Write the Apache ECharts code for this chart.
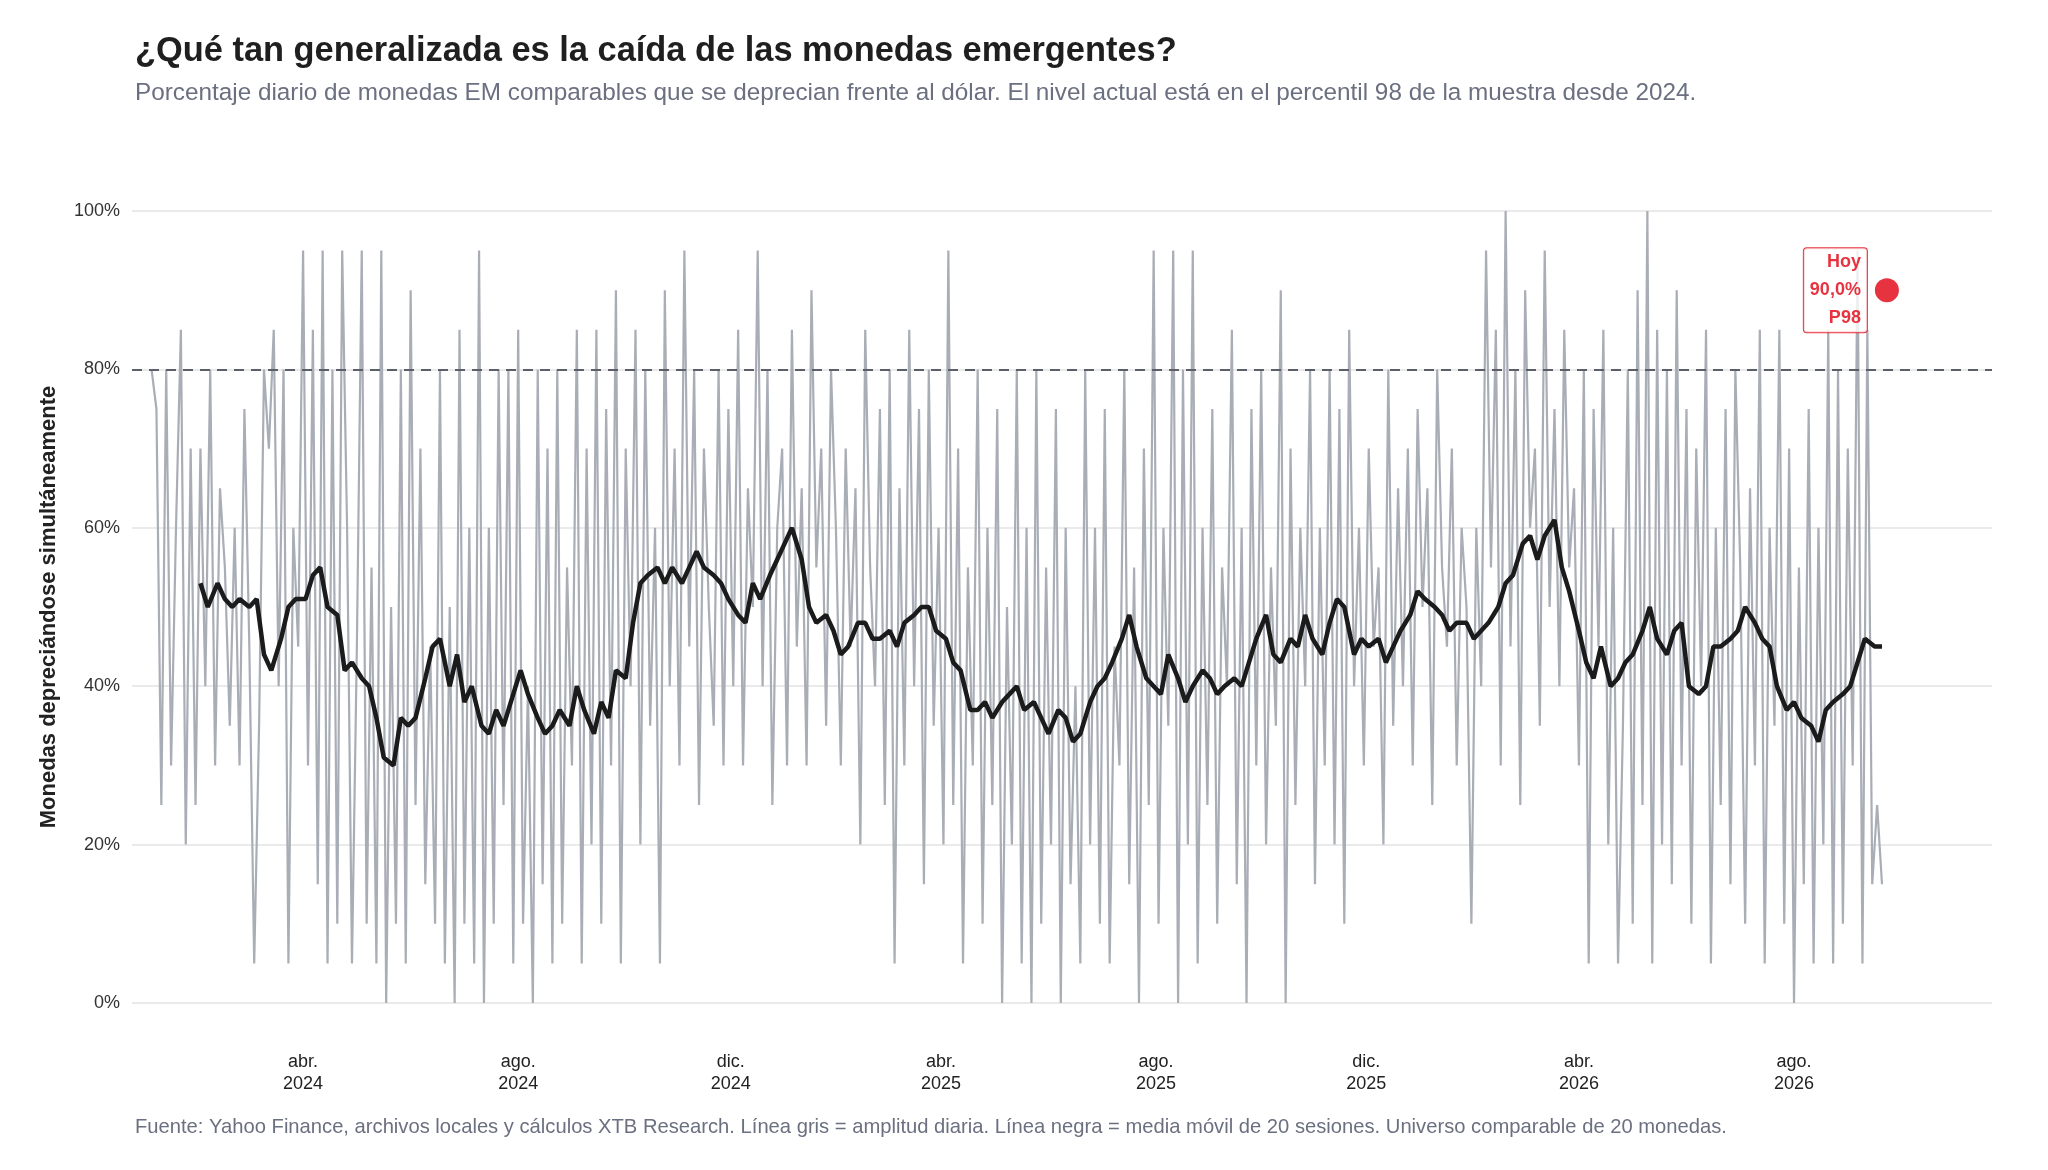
<!DOCTYPE html>
<html><head><meta charset="utf-8">
<script src="https://cdn.jsdelivr.net/npm/echarts@6/dist/echarts.min.js"></script>
<style>html,body{margin:0;padding:0;background:#fff}#c{width:2048px;height:1170px}</style>
</head><body><div id="c"></div>
<script>
const title = '¿Qué tan generalizada es la caída de las monedas emergentes?';
const subtitle = 'Porcentaje diario de monedas EM comparables que se deprecian frente al dólar. El nivel actual está en el percentil 98 de la muestra desde 2024.';
const footer = 'Fuente: Yahoo Finance, archivos locales y cálculos XTB Research. Línea gris = amplitud diaria. Línea negra = media móvil de 20 sesiones. Universo comparable de 20 monedas.';
const yTicks = [0,20,40,60,80,100];
const threshold = 80;
const today = {value: 90, label: 'Hoy\n90,0%\nP98'};
// daily breadth, sampled every 2 sessions from 2024-01-04
const dailyBreadth = [
80,75,25,80,30,60,85,20,70,25,70,40,80,30,65,55,35,60,30,75,45,5,35,80,70,85,40,80,5,60,
45,95,30,85,15,95,5,80,10,95,60,5,45,95,10,55,5,95,0,50,10,80,5,90,25,70,15,45,10,80,
5,50,0,85,10,60,5,95,0,60,10,80,25,80,5,85,10,40,0,80,15,70,5,80,10,55,30,85,5,70,
20,85,10,75,30,90,5,70,40,85,20,80,35,60,5,90,40,70,30,95,45,80,25,70,50,35,80,30,75,40,
85,30,65,50,95,40,80,25,60,70,30,85,45,65,30,90,55,70,35,80,60,30,70,45,65,20,85,55,40,75,
25,80,5,65,30,85,40,75,15,80,35,60,20,95,25,70,5,55,30,80,10,60,25,75,0,50,20,80,5,60,
0,80,10,55,20,75,0,60,15,40,5,80,20,60,10,75,5,45,30,80,15,55,0,70,25,95,10,60,35,95,
0,80,20,95,5,60,25,75,10,55,40,85,15,60,0,75,30,80,20,55,35,90,0,70,25,60,40,80,15,60,
30,80,20,75,10,85,40,60,30,70,45,55,20,80,35,65,40,70,30,75,50,65,25,80,55,45,70,30,60,50,
10,60,40,95,55,85,30,100,45,80,25,90,60,70,35,95,50,75,40,85,55,65,30,80,5,75,45,85,20,60,
5,35,80,10,90,25,100,5,85,20,80,15,90,30,75,10,70,40,85,5,60,25,75,15,80,55,10,65,30,85,
5,60,35,85,10,70,0,55,15,75,5,60,20,85,5,80,10,70,30,95,5,85,15,25,15];
// 20-session moving average, evenly sampled from session 20 to the last session
const movingAvg = [
53,50,53,51,50,51,50,51,44,42,46,50,51,51,54,55,50,49,42,43,41,40,36,31,30,36,35,36,41,45,
46,40,44,38,40,35,34,37,35,39,42,39,36,34,35,37,35,40,37,34,38,36,42,41,48,53,54,55,53,55,
53,55,57,55,54,53,51,49,48,53,51,54,56,58,60,56,50,48,49,47,44,45,48,48,46,46,47,45,48,49,
50,50,47,46,43,42,37,37,38,36,38,39,40,37,38,36,34,37,36,33,34,38,40,41,43,46,49,45,41,40,
39,44,41,38,40,42,41,39,40,41,40,43,46,49,44,43,46,45,49,46,44,48,51,50,44,46,45,46,43,45,
47,49,52,51,50,49,47,48,48,46,47,48,50,53,54,58,59,56,59,61,55,52,47,43,41,45,40,41,43,44,
47,50,46,44,47,48,40,39,40,45,45,46,47,50,48,46,45,40,37,38,36,35,33,37,38,39,40,43,46,45,45];

// business-day categories
const cats = [];
for (let t = Date.UTC(2023,11,25); t <= Date.UTC(2026,10,24); t += 86400000) {
  const d = new Date(t).getUTCDay();
  if (d !== 0 && d !== 6) cats.push(new Date(t).toISOString().slice(0,10));
}
const start = cats.indexOf('2024-01-04');
const lastIdx = start + 2*(dailyBreadth.length-1);
const grey = dailyBreadth.map((v,i)=>[start+2*i, v]);
const bStep = (lastIdx - start - 20)/(movingAvg.length-1);
const black = movingAvg.map((v,i)=>[start+20+Math.round(i*bStep), v]);
const mNames = {'04':'abr.','08':'ago.','12':'dic.'};
const labelIdx = new Set();
let prevM = '';
cats.forEach((c,i)=>{const m=c.slice(5,7); if(m!==prevM){ if(mNames[m] && c>'2024-02') labelIdx.add(i); prevM=m;}});

const chart = echarts.init(document.getElementById('c'));
chart.setOption({
  animation:false,
  textStyle:{fontFamily:'Liberation Sans, Arial, sans-serif'},
  title:[
    {text:title, left:130, top:30, textStyle:{fontSize:34.4, fontWeight:'bold', color:'#1f1f1f'}},
    {text:subtitle, left:130, top:76, textStyle:{fontSize:24.3, fontWeight:'normal', color:'#6b7080'}},
    {text:footer, left:130, top:1112, textStyle:{fontSize:20.2, fontWeight:'normal', color:'#6b7080'}}
  ],
  grid:{left:132, right:56, top:211, bottom:167},
  xAxis:{type:'category', data:cats, boundaryGap:false,
    axisLine:{show:false}, axisTick:{show:false}, splitLine:{show:false},
    axisLabel:{interval:(i)=>labelIdx.has(i), margin:48, fontSize:18, color:'#222', lineHeight:22,
      formatter:(v)=>mNames[v.slice(5,7)]+'\n'+v.slice(0,4)}},
  yAxis:{type:'value', min:0, max:100, interval:20,
    name:'Monedas depreciándose simultáneamente', nameLocation:'middle', nameGap:72,
    nameTextStyle:{fontSize:22, fontWeight:'bold', color:'#222'},
    axisLabel:{formatter:'{value}%', fontSize:18, color:'#333', margin:12},
    axisLine:{show:false}, axisTick:{show:false},
    splitLine:{lineStyle:{color:'#e3e3e3', width:1.5}}},
  series:[
    {type:'line', data:grey, symbol:'none', lineStyle:{color:'#a9aeb6', width:2.2}, z:2,
      markLine:{silent:true, symbol:'none', label:{show:false},
        lineStyle:{color:'#5a5f6a', width:2, type:[10,7]}, data:[{yAxis:threshold}]}},
    {type:'line', data:black, symbol:'none', lineStyle:{color:'#1b1b1b', width:4.5}, z:3},
    {type:'scatter', data:[[lastIdx+2, today.value]], symbolSize:24, itemStyle:{color:'#e0000f'}, z:5,
      label:{show:true, position:'left', distance:8, formatter:today.label, align:'right',
        color:'#e0000f', fontWeight:'bold', fontSize:18, lineHeight:28,
        backgroundColor:'#fff', borderColor:'#e0000f', borderWidth:1, borderRadius:3, padding:[0,6]}}
  ]
});
</script></body></html>
